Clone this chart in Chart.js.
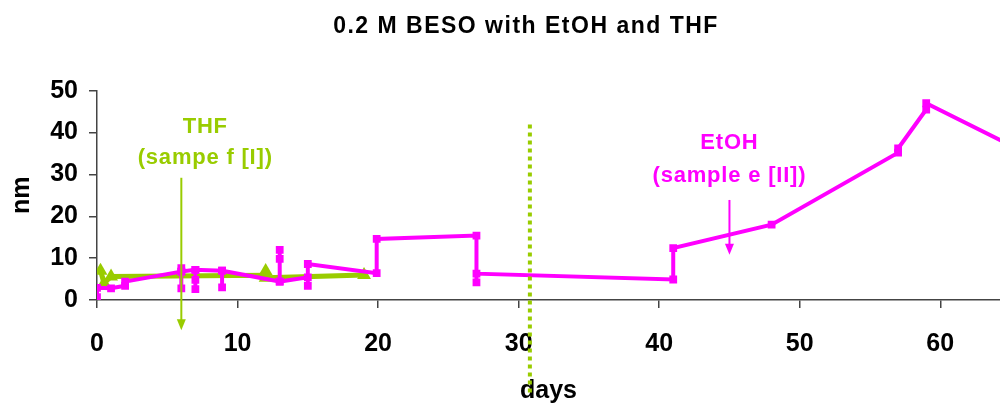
<!DOCTYPE html>
<html>
<head>
<meta charset="utf-8">
<script src="https://cdn.jsdelivr.net/npm/chart.js@4"></script>
<style>
  html, body { margin: 0; padding: 0; background: #fff; }
  #wrap { width: 1000px; height: 407px; }
</style>
</head>
<body>
<div id="wrap"><canvas id="beso" width="1000" height="407"></canvas></div>
<script>
// EtOH (sample e [II]) - several readings share the same day
const etohDays = [0, 0, 1, 2, 2, 6, 6, 6, 6, 7, 7, 7, 7, 8.9, 8.9, 8.9, 13, 13, 13, 13, 15, 15, 15, 19.9, 19.9, 27, 27, 27, 41, 41, 48, 57, 57, 59, 59, 66];
const etohNm   = [0.7, 2.9, 2.8, 3.4, 4.4, 6.8, 2.8, 7.6, 6.8, 7.2, 2.6, 4.8, 7.2, 7.0, 3.0, 7.0, 4.4, 12.0, 9.8, 4.4, 5.4, 3.4, 8.6, 6.4, 14.6, 15.4, 4.2, 6.3, 4.9, 12.4, 18.0, 35.2, 36.2, 45.5, 47.0, 35.3];

// THF (sampe f [I])
const thfDays = [0.25, 0.5, 1, 12, 12, 12, 19];
const thfNm   = [7.0, 4.0, 5.6, 5.9, 6.9, 5.3, 6.0];

const xTicks = [0, 10, 20, 30, 40, 50, 60];
const yTicks = [0, 10, 20, 30, 40, 50];

// annotation marks, in data units
const arrowDays = [6, 45];
const arrowFrom = [29.2, 23.9];
const arrowTo   = [-7.2, 10.8];
const dotDay = 30.8;
const dotFrom = 41.9, dotTo = -22.7;

const green = '#99CC00';
const pink = '#FF00FF';
const fontFam = '"Liberation Sans", Arial, sans-serif';

const toXY = (xs, ys) => xs.map((x, i) => ({ x: x, y: ys[i] }));

const annotations = {
  id: 'annotations',
  afterDatasetsDraw(chart) {
    const ctx = chart.ctx;
    const xs = chart.scales.x, ys = chart.scales.y;
    ctx.save();

    // title
    ctx.fillStyle = '#000';
    ctx.font = 'bold 23px ' + fontFam;
    ctx.letterSpacing = '1.5px';
    ctx.textAlign = 'center';
    ctx.textBaseline = 'middle';
    ctx.fillText('0.2 M BESO with EtOH and THF', 526, 27);

    // dotted green divider
    ctx.strokeStyle = green;
    ctx.lineWidth = 4;
    ctx.setLineDash([4, 4]);
    ctx.beginPath();
    ctx.moveTo(xs.getPixelForValue(dotDay), ys.getPixelForValue(dotFrom));
    ctx.lineTo(xs.getPixelForValue(dotDay), ys.getPixelForValue(dotTo));
    ctx.stroke();
    ctx.setLineDash([]);

    // arrows
    const cols = [green, pink];
    arrowDays.forEach((d, i) => {
      const x = xs.getPixelForValue(d);
      const y1 = ys.getPixelForValue(arrowFrom[i]);
      const y2 = ys.getPixelForValue(arrowTo[i]);
      ctx.strokeStyle = cols[i];
      ctx.fillStyle = cols[i];
      ctx.lineWidth = 2;
      ctx.beginPath();
      ctx.moveTo(x, y1);
      ctx.lineTo(x, y2 - 8);
      ctx.stroke();
      ctx.beginPath();
      ctx.moveTo(x - 4.5, y2 - 11);
      ctx.lineTo(x + 4.5, y2 - 11);
      ctx.lineTo(x, y2);
      ctx.closePath();
      ctx.fill();
    });

    // labels
    ctx.font = 'bold 22px ' + fontFam;
    ctx.letterSpacing = '0.8px';
    ctx.fillStyle = green;
    ctx.fillText('THF', xs.getPixelForValue(7.7), ys.getPixelForValue(41.4));
    ctx.fillText('(sampe f [I])', xs.getPixelForValue(7.7), ys.getPixelForValue(34.0));
    ctx.fillStyle = pink;
    ctx.fillText('EtOH', xs.getPixelForValue(45.0), ys.getPixelForValue(37.6));
    ctx.fillText('(sample e [II])', xs.getPixelForValue(45.0), ys.getPixelForValue(29.7));
    ctx.restore();
  }
};

const tickFont = { family: fontFam, size: 25, weight: 'bold' };
const axisColor = '#444';

new Chart(document.getElementById('beso'), {
  type: 'scatter',
  data: {
    datasets: [
      {
        label: 'EtOH',
        data: toXY(etohDays, etohNm),
        showLine: true,
        borderColor: pink,
        backgroundColor: pink,
        borderWidth: 4,
        pointStyle: 'rect',
        pointRadius: 5.5,
        pointBorderWidth: 0,
        tension: 0
      },
      {
        label: 'THF',
        data: toXY(thfDays, thfNm),
        showLine: true,
        borderColor: green,
        backgroundColor: green,
        borderWidth: 5,
        pointStyle: 'triangle',
        pointRadius: 8,
        pointBorderWidth: 0,
        tension: 0
      }
    ]
  },
  options: {
    responsive: false,
    animation: false,
    layout: { autoPadding: false, padding: { left: 0, right: 0, top: 90.7, bottom: 0 } },
    plugins: {
      legend: { display: false },
      tooltip: { enabled: false },
      title: { display: false }
    },
    scales: {
      x: {
        type: 'linear',
        min: 0,
        max: 64.25,
        afterBuildTicks: s => { s.ticks = xTicks.map(v => ({ value: v })); },
        afterFit: s => { s.height = 107; s.paddingLeft = 0; s.paddingRight = 0; },
        ticks: { color: '#000', font: tickFont, padding: 21, maxRotation: 0 },
        grid: { drawOnChartArea: false, drawTicks: true, tickLength: 8, color: axisColor, lineWidth: 1.5 },
        border: { display: true, color: axisColor, width: 1.5 },
        title: { display: true, text: 'days', color: '#000', font: tickFont, padding: { top: 0, bottom: 1 } }
      },
      y: {
        min: 0,
        max: 50,
        afterBuildTicks: s => { s.ticks = yTicks.map(v => ({ value: v })); },
        afterFit: s => { s.width = 97; s.paddingTop = 0; s.paddingBottom = 0; },
        ticks: { color: '#000', font: tickFont, padding: 11 },
        grid: { drawOnChartArea: false, drawTicks: true, tickLength: 8, color: axisColor, lineWidth: 1.5 },
        border: { display: true, color: axisColor, width: 1.5 },
        title: { display: true, text: 'nm', color: '#000', font: tickFont, padding: { top: 7, bottom: 0 } }
      }
    }
  },
  plugins: [annotations]
});
</script>
</body>
</html>
